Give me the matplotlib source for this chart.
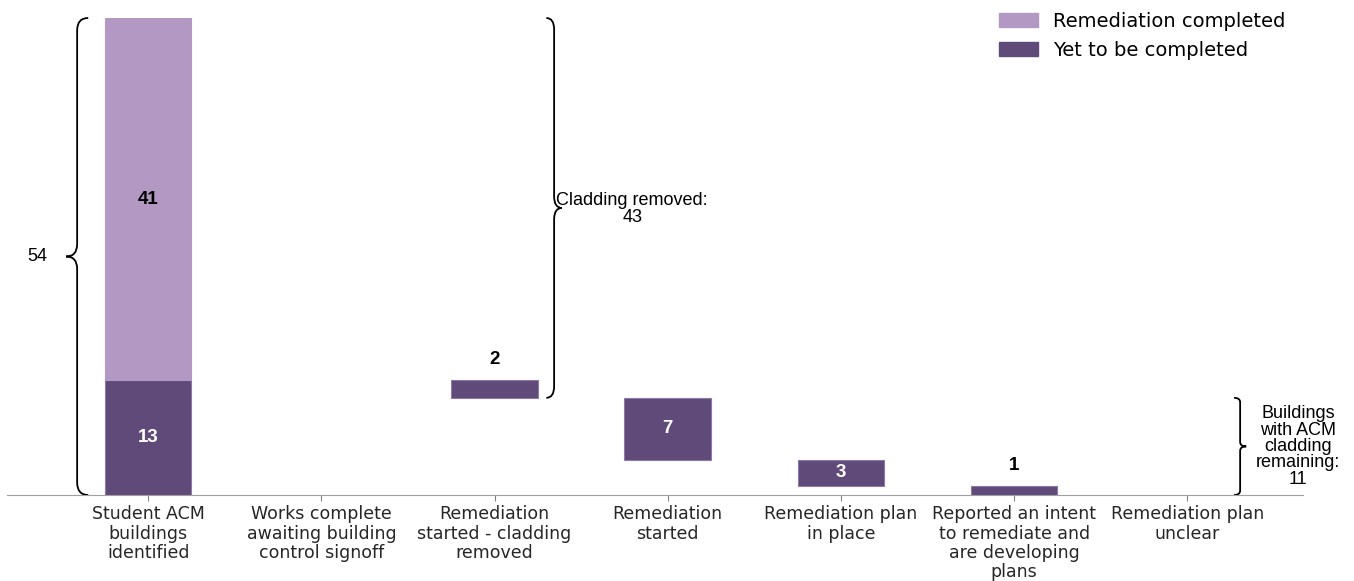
import matplotlib
matplotlib.use("Agg")
import matplotlib.pyplot as plt
from matplotlib.path import Path
from matplotlib.patches import PathPatch, Patch
import numpy as np

categories = ['Student ACM\nbuildings\nidentified',
              'Works complete\nawaiting building\ncontrol signoff',
              'Remediation\nstarted - cladding\nremoved',
              'Remediation\nstarted',
              'Remediation plan\nin place',
              'Reported an intent\nto remediate and\nare developing\nplans',
              'Remediation plan\nunclear']
completed = [41, 0, 0, 0, 0, 0, 0]
remaining = [13, 0, 2, 7, 3, 1, 0]
total = 54
cladding_removed = 43
still_remaining = 11

light = '#b498c4'
dark = '#5f4a7a'
edge = '#8c7aa6'


def brace(ax, x, y0, y1, w, d, h, lw=1.3):
    # d = +1 tip points right, -1 tip points left
    ym = (y0 + y1) / 2
    verts = [(x - d*w, y0), (x, y0), (x, y0 + h),
             (x, ym - h),
             (x, ym), (x + d*w, ym),
             (x, ym), (x, ym + h),
             (x, y1 - h),
             (x, y1), (x - d*w, y1)]
    codes = [Path.MOVETO, Path.CURVE3, Path.CURVE3,
             Path.LINETO,
             Path.CURVE3, Path.CURVE3,
             Path.CURVE3, Path.CURVE3,
             Path.LINETO,
             Path.CURVE3, Path.CURVE3]
    ax.add_patch(PathPatch(Path(verts, codes), fill=False, lw=lw,
                           edgecolor='black', clip_on=False))


# waterfall bottoms: each step sits on top of what comes after it
bottoms = [0] * len(remaining)
for i in range(len(remaining) - 1, 0, -1):
    bottoms[i] = sum(remaining[i+1:])

fig = plt.figure(figsize=(13.54, 5.81), dpi=100)
ax = fig.add_axes([7/1354, 1-495/581, (1303-7)/1354, (495-18)/581])

x = np.arange(len(categories))
nz = [i for i, v in enumerate(remaining) if v > 0]
ax.bar(x[nz], [remaining[i] for i in nz], 0.5, bottom=[bottoms[i] for i in nz],
       color=dark, edgecolor=edge, linewidth=0.8)
ax.bar(x[0], completed[0], 0.5, bottom=remaining[0], color=light, edgecolor=light, linewidth=0.8)

labfont = dict(family=['Liberation Sans', 'DejaVu Sans'], fontweight='bold', fontsize=13.5)
ax.text(x[0], remaining[0] + completed[0]/2, str(completed[0]), ha='center', va='center', color='black', **labfont)
for i in nz:
    v = remaining[i]
    if v >= 3:
        ax.text(x[i], bottoms[i] + v/2, str(v), ha='center', va='center', color='white', **labfont)
    else:
        ax.text(x[i], bottoms[i] + v + 2.3, str(v), ha='center', va='center', color='black', **labfont)

ax.set_xlim(-0.815, 6.668)
ax.set_ylim(0, total)
ax.set_xticks(x)
ax.set_xticklabels(categories, fontsize=12.5, linespacing=1.08)
ax.set_yticks([])
for s in ['top', 'right', 'left']:
    ax.spines[s].set_visible(False)
ax.spines['bottom'].set_color('#a0a0a0')
ax.tick_params(axis='x', colors='#808080', length=4, labelcolor='#262626')

# braces and notes
afont = dict(family=['Liberation Sans', 'DejaVu Sans'], fontsize=13)
brace(ax, -0.41, 0, total, 0.064, -1, 1.4)
ax.text(-0.64, total/2, str(total), ha='center', va='center', **afont)

brace(ax, 2.344, remaining[0] - remaining[2], total, 0.045, 1, 1.3)
ax.text(2.795, (still_remaining + total)/2 - 0.1, 'Cladding removed:\n' + str(cladding_removed),
        ha='center', va='center', linespacing=1.02, **afont)

brace(ax, 6.305, 0, still_remaining, 0.035, 1, 0.5)
ax.text(6.64, still_remaining/2, 'Buildings\nwith ACM\ncladding\nremaining:\n' + str(still_remaining),
        ha='center', va='center', linespacing=0.95, **afont)

handles = [Patch(color=light), Patch(color=dark)]
fig.legend(handles, ['Remediation completed', 'Yet to be completed'], loc='upper left',
           bbox_to_anchor=(991/1354, 1-4/581), frameon=False, fontsize=14,
           borderaxespad=0, labelspacing=0.5, handlelength=2.0)

fig.savefig('out.png', dpi=100)
